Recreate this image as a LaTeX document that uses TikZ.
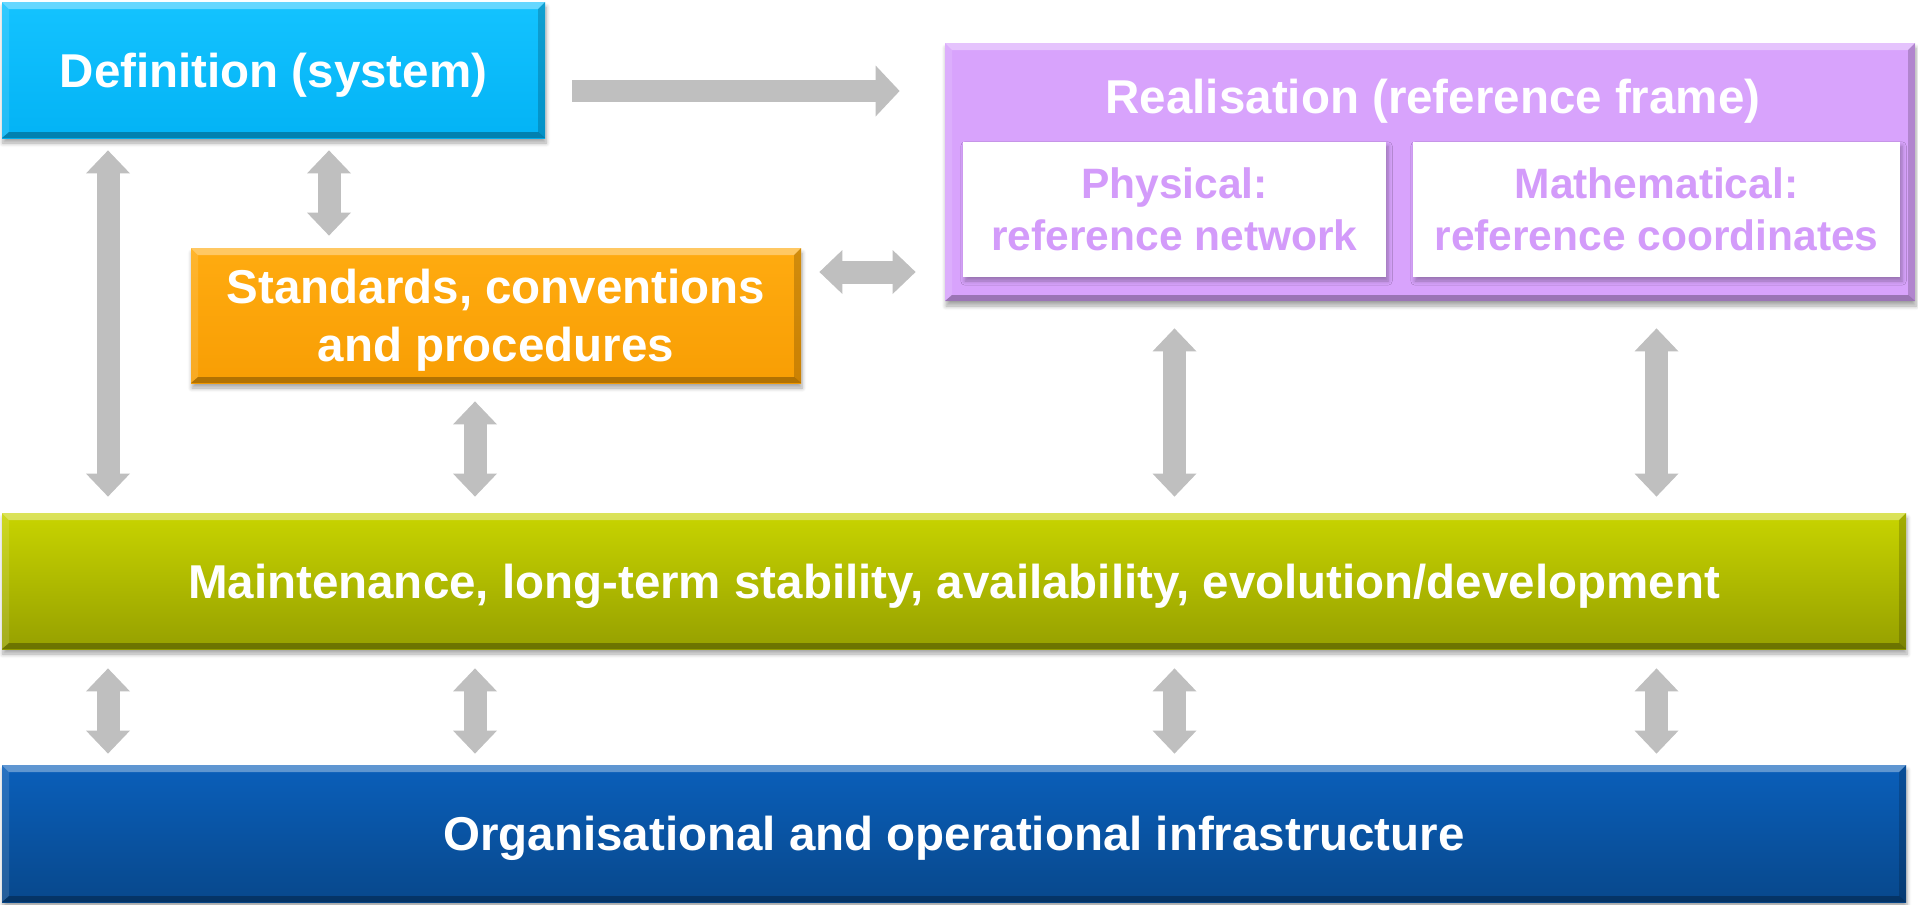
\documentclass[tikz,border=0pt]{standalone}
\usepackage{fontspec}
\setmainfont{Liberation Sans}
\usetikzlibrary{arrows.meta,shadows.blur,calc}

\definecolor{defT}{HTML}{14C3FF}
\definecolor{defB}{HTML}{03B3F5}
\definecolor{stdT}{HTML}{FFAB10}
\definecolor{stdB}{HTML}{F89E04}
\definecolor{realF}{HTML}{D8A3FC}
\definecolor{realText}{HTML}{D39BFA}
\definecolor{mntT}{HTML}{C8D400}
\definecolor{mntB}{HTML}{96A000}
\definecolor{orgT}{HTML}{0A5FBA}
\definecolor{orgB}{HTML}{08488C}
\definecolor{arrgray}{HTML}{BFBFBF}

\tikzset{
  % bevelled block with a soft shadow
  block/.style={rectangle, inner sep=0pt, align=center, text=white, text depth=-5pt,
    font=\bfseries\fontsize{23.75}{29}\selectfont,
    blur shadow={shadow xshift=0.5pt, shadow yshift=-2.5pt, shadow blur steps=6, shadow opacity=35},
    path picture={
      \coordinate (nw) at (path picture bounding box.north west);
      \coordinate (ne) at (path picture bounding box.north east);
      \coordinate (sw) at (path picture bounding box.south west);
      \coordinate (se) at (path picture bounding box.south east);
      \fill[white, opacity=0.35] (nw) -- (ne) -- ($(ne)+(-3.5pt,-3.5pt)$) -- ($(nw)+(3.5pt,-3.5pt)$) -- cycle;
      \fill[white, opacity=0.12] (nw) -- ($(nw)+(3.5pt,-3.5pt)$) -- ($(sw)+(3.5pt,3pt)$) -- (sw) -- cycle;
      \fill[black, opacity=0.18] (ne) -- ($(ne)+(-3.5pt,-3.5pt)$) -- ($(se)+(-3.5pt,3pt)$) -- (se) -- cycle;
      \fill[black, opacity=0.28] (sw) -- ($(sw)+(3.5pt,3pt)$) -- ($(se)+(-3.5pt,3pt)$) -- (se) -- cycle;
    }},
  innerbox/.style={rectangle, inner sep=0pt, align=center, fill=white, text=realText, text depth=0pt,
    font=\bfseries\fontsize{21.25}{26}\selectfont,
    blur shadow={shadow xshift=1pt, shadow yshift=-2pt, shadow blur steps=5, shadow opacity=30}},
  titletext/.style={inner sep=0pt, text=white, font=\bfseries\fontsize{23.75}{29}\selectfont},
  darr/.style={draw=arrgray, line width=11.5pt, {Triangle[width=22pt, length=11.5pt, line width=0pt]}-{Triangle[width=22pt, length=11.5pt, line width=0pt]}},
  sarr/.style={draw=arrgray, line width=11pt, -{Triangle[width=25.5pt, length=12pt, line width=0pt]}},
}

\begin{document}
\begin{tikzpicture}[x=0.5pt, y=-0.5pt]
\useasboundingbox (0,0) rectangle (1918,905);

% column and row positions of the connectors
\coordinate (c1) at (108,0);
\coordinate (c2) at (329,0);
\coordinate (c3) at (475,0);
\coordinate (r1) at (0,91);
\coordinate (r2) at (0,272);

% blocks
\node[block, top color=defT, bottom color=defB, minimum width=271.5pt, minimum height=68pt]
  (def) at (273.5,70) {Definition (system)};
\node[block, top color=stdT, bottom color=stdB, minimum width=305pt, minimum height=67.5pt]
  (std) at (496,315.5) {Standards, conventions\\and procedures};
\node[block, fill=realF, minimum width=485pt, minimum height=129pt]
  (real) at (1430,172) {};
\node[titletext] (rt) at (1433,101.5) {Realisation (reference frame)};
\node[innerbox, minimum width=211.5pt, minimum height=67.5pt]
  (phys) at (1174.5,209.5) {Physical:\\reference network};
\node[innerbox, minimum width=243.5pt, minimum height=67.5pt]
  (math) at (1656.5,209.5) {Mathematical:\\reference coordinates};
\node[block, top color=mntT, bottom color=mntB, minimum width=952pt, minimum height=68pt]
  (mnt) at (954,581) {Maintenance, long-term stability, availability, evolution/development};
\node[block, top color=orgT, bottom color=orgB, minimum width=952pt, minimum height=68.5pt]
  (org) at (954,833.5) {Organisational and operational infrastructure};

% connectors
\draw[sarr, shorten <=13.5pt, shorten >=22.5pt] (def.east |- r1) -- (real.west |- r1);
\draw[darr, shorten <=6pt, shorten >=8pt] (def.south -| c1) -- (mnt.north -| c1);
\draw[darr, shorten <=6pt, shorten >=6pt] (def.south -| c2) -- (std.north -| c2);
\draw[darr, shorten <=9pt, shorten >=14.5pt] (std.east |- r2) -- (real.west |- r2);
\draw[darr, shorten <=9pt, shorten >=8pt] (std.south -| c3) -- (mnt.north -| c3);
\draw[darr, shorten <=13.5pt, shorten >=8pt] (real.south -| phys.south) -- (mnt.north -| phys.south);
\draw[darr, shorten <=13.5pt, shorten >=8pt] (real.south -| math.south) -- (mnt.north -| math.south);

\draw[darr, shorten <=9.5pt, shorten >=5.5pt] (mnt.south -| c1) -- (org.north -| c1);
\draw[darr, shorten <=9.5pt, shorten >=5.5pt] (mnt.south -| c3) -- (org.north -| c3);
\draw[darr, shorten <=9.5pt, shorten >=5.5pt] (mnt.south -| phys.south) -- (org.north -| phys.south);
\draw[darr, shorten <=9.5pt, shorten >=5.5pt] (mnt.south -| math.south) -- (org.north -| math.south);
\end{tikzpicture}
\end{document}
